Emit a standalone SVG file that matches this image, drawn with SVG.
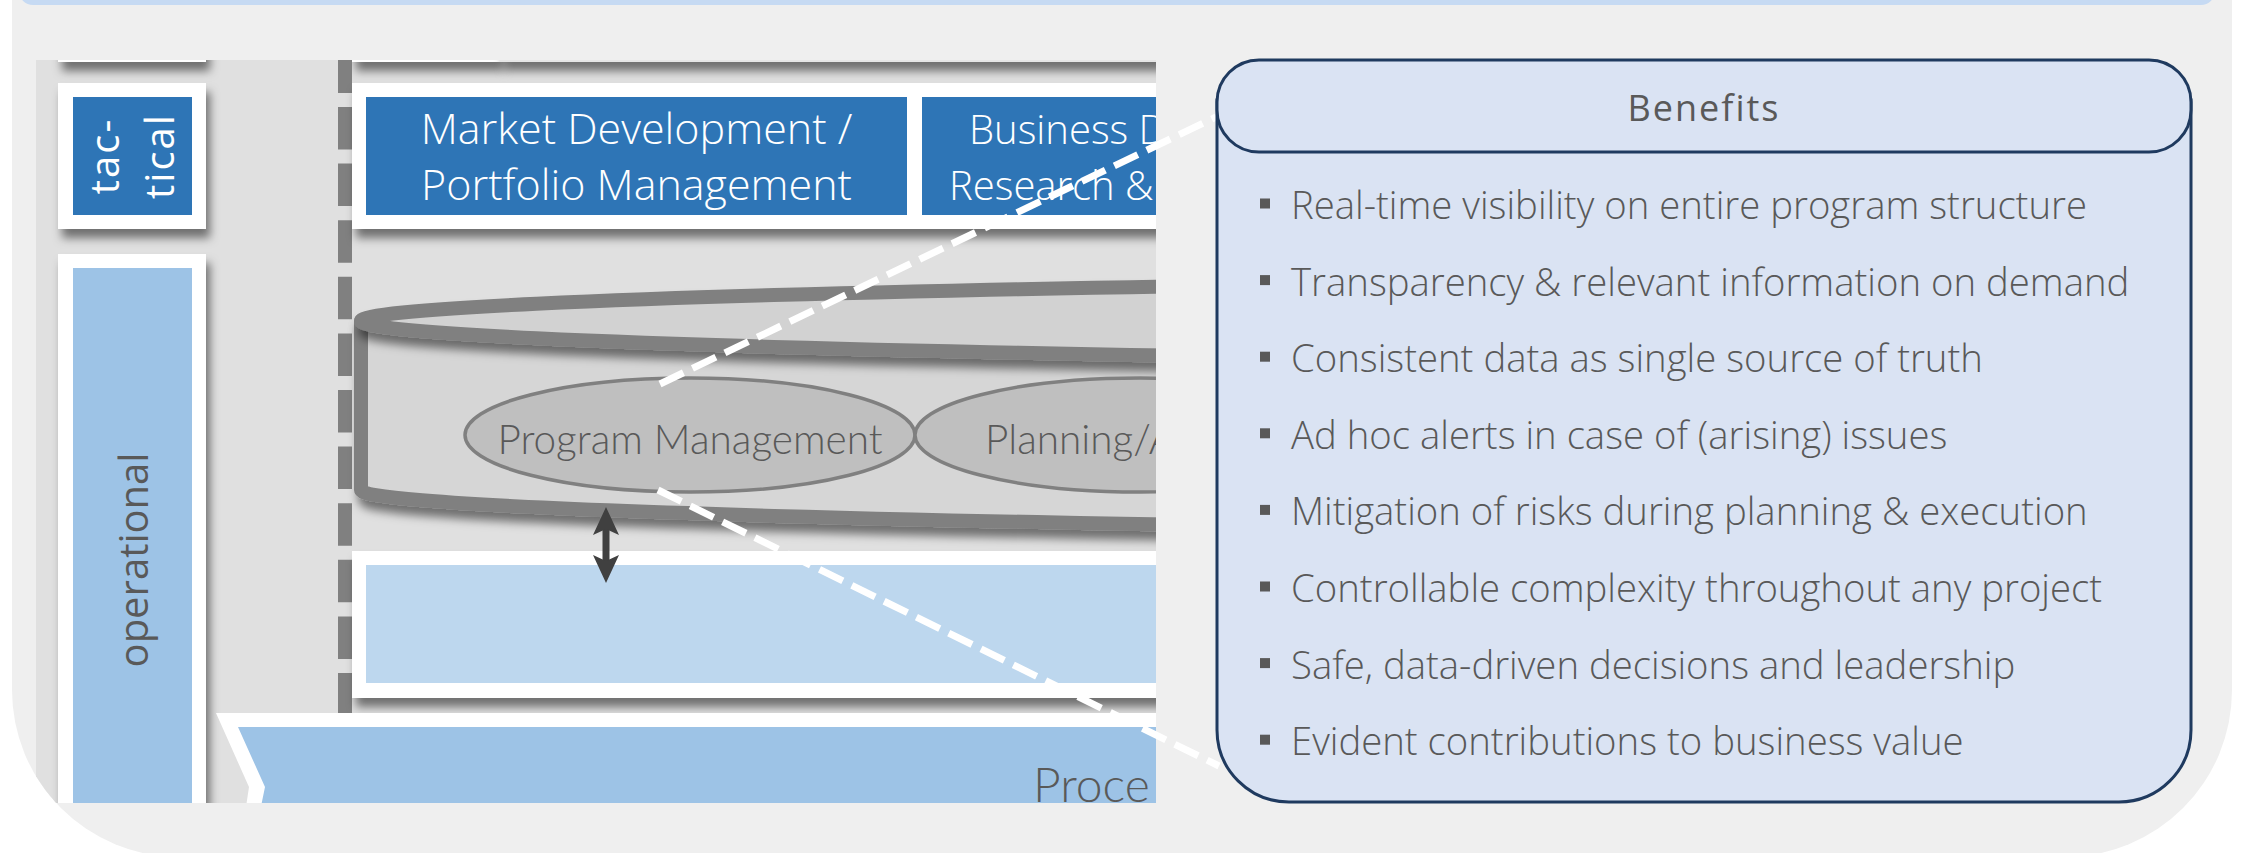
<svg xmlns="http://www.w3.org/2000/svg" width="2242" height="853" viewBox="0 0 2242 853">
<defs>
<style>
.os{font-family:"Open Sans","Liberation Sans",sans-serif}
.lt{font-family:Lato,"Open Sans",sans-serif;font-weight:300;fill:#595959}
.wb{fill:#ffffff}
.dk{fill:#2e75b6}
.mid{fill:#9dc3e6}
.lb{fill:#bdd7ee}
.hd{font-family:"Open Sans","Liberation Sans",sans-serif;font-size:43px;font-weight:300;fill:#ffffff}
.hd2{font-family:"Open Sans","Liberation Sans",sans-serif;font-size:40px;font-weight:300;fill:#ffffff}
.bt{font-family:"Open Sans","Liberation Sans",sans-serif;font-size:38.3px;font-weight:300;fill:#595959}
.bul{fill:#595959}
.dash{fill:none;stroke:#ffffff;stroke-width:7;stroke-dasharray:26 10}
.oval{fill:#bfbfbf;stroke:#808080;stroke-width:3.5}
.cyl{stroke:#808080;stroke-width:14;stroke-linejoin:round}
</style>
<filter id="sh" filterUnits="userSpaceOnUse" x="0" y="0" width="2242" height="853">
<feDropShadow dx="4" dy="9" stdDeviation="5" flood-color="#000000" flood-opacity="0.5"/>
</filter>
<clipPath id="crop"><path d="M36,60 H1156 V803 H56 A167,167 0 0 1 36,776.3 Z"/></clipPath>
</defs>
<rect x="0" y="0" width="2242" height="853" fill="#ffffff"/>
<path id="panel" d="M12,-20 H2232 V690 A167,167 0 0 1 2065,857 H179 A167,167 0 0 1 12,690 Z" fill="#efefef"/>
<rect x="19" y="-30" width="2196" height="35" rx="14" fill="#c6daf3"/>
<g id="crop-area" clip-path="url(#crop)">
<rect x="36" y="60" width="1120" height="743" fill="#e0e0e0"/>
<rect x="58" y="30" width="148" height="32" class="wb" filter="url(#sh)"/>
<rect x="352" y="30" width="148" height="32" class="wb" filter="url(#sh)"/>
<rect x="500" y="30" width="700" height="32" fill="#e6e6e6" filter="url(#sh)"/>
<g id="tactical">
<rect x="58" y="83" width="148" height="146" class="wb" filter="url(#sh)"/>
<rect x="73" y="97" width="119" height="118" class="dk"/>
<text class="os" font-size="40" fill="#ffffff" letter-spacing="2" text-anchor="middle" transform="translate(119,156) rotate(-90)">tac-</text>
<text class="os" font-size="40" fill="#ffffff" letter-spacing="2" text-anchor="middle" transform="translate(174,156) rotate(-90)">tical</text>
</g>
<g id="operational">
<rect x="58" y="254" width="148" height="600" class="wb" filter="url(#sh)"/>
<rect x="73" y="268" width="119" height="600" class="mid"/>
<text class="os" font-size="40" fill="#595959" text-anchor="middle" transform="translate(148,560) rotate(-90)">operational</text>
</g>
<line x1="345" y1="50.4" x2="345" y2="713" stroke="#808080" stroke-width="14" stroke-dasharray="42.5 14.1"/>
<g id="strategic-row">
<rect x="352" y="83" width="1000" height="146" class="wb" filter="url(#sh)"/>
<g id="market-development">
<rect x="366" y="97" width="541" height="118" class="dk"/>
<text class="hd" x="636.5" y="144" text-anchor="middle">Market Development /</text>
<text class="hd" x="636.5" y="200" text-anchor="middle">Portfolio Management</text>
</g>
<g id="business-development">
<rect x="922" y="97" width="541" height="118" class="dk"/>
<text class="hd2" x="969" y="144">Business D</text>
<text class="hd2" x="949" y="200">Research &amp;</text>
</g>
</g>
<g id="cylinder">
<path class="cyl" d="M361,321 V490 A2500,47 0 0 0 1300,526.7 V321 Z" fill="#d6d6d6" filter="url(#sh)"/>
<ellipse class="cyl" cx="2861" cy="321" rx="2500" ry="47" fill="#d2d2d2" filter="url(#sh)"/>
<g id="program-management">
<ellipse class="oval" cx="690" cy="435" rx="225" ry="57"/>
<text class="lt" x="690" y="454" font-size="40.5" text-anchor="middle">Program Management</text>
</g>
<g id="planning">
<ellipse class="oval" cx="1140" cy="435" rx="225" ry="57"/>
<text class="lt" x="985" y="454" font-size="40.5">Planning/A</text>
</g>
</g>
<g id="data-layer">
<rect x="352" y="551" width="1000" height="147" class="wb" filter="url(#sh)"/>
<rect x="366" y="565" width="990" height="118" class="lb"/>
</g>
<g id="arrow">
<line x1="606" y1="528" x2="606" y2="562" stroke="#404040" stroke-width="7"/>
<path d="M606,507 L619,535 L606,529 L593,535 Z M606,583 L619,555 L606,561 L593,555 Z" fill="#404040"/>
</g>
<g id="process">
<path d="M216,713 L1200,713 L1200,860 L238,860 L249,787 Z" class="wb"/>
<path d="M238,727 L1200,727 L1200,860 L250,860 L265,787 Z" class="mid"/>
<text class="lt" x="1033" y="802" font-size="48">Proce</text>
</g>
</g>
<g id="connectors">
<line class="dash" x1="660" y1="384" x2="1216" y2="117"/>
<line class="dash" x1="658" y1="490" x2="1219" y2="766"/>
</g>
<g id="benefits">
<path d="M1217,100 V730 A72,72 0 0 0 1289,802 H2119 A72,72 0 0 0 2191,730 V100 Z" fill="#dae3f3" stroke="#1f3a5f" stroke-width="3"/>
<rect x="1217" y="60" width="974" height="92" rx="42" fill="#dae3f3" stroke="#1f3a5f" stroke-width="3"/>
<text class="os" x="1704" y="121" font-size="36" fill="#595959" letter-spacing="2" text-anchor="middle">Benefits</text>
<rect class="bul" x="1260" y="198.5" width="10" height="10"/>
<text class="bt" x="1291" y="219">Real-time visibility on entire program structure</text>
<rect class="bul" x="1260" y="275.1" width="10" height="10"/>
<text class="bt" x="1291" y="295.6">Transparency &amp; relevant information on demand</text>
<rect class="bul" x="1260" y="351.7" width="10" height="10"/>
<text class="bt" x="1291" y="372.2">Consistent data as single source of truth</text>
<rect class="bul" x="1260" y="428.3" width="10" height="10"/>
<text class="bt" x="1291" y="448.8">Ad hoc alerts in case of (arising) issues</text>
<rect class="bul" x="1260" y="504.9" width="10" height="10"/>
<text class="bt" x="1291" y="525.4">Mitigation of risks during planning &amp; execution</text>
<rect class="bul" x="1260" y="581.5" width="10" height="10"/>
<text class="bt" x="1291" y="602">Controllable complexity throughout any project</text>
<rect class="bul" x="1260" y="658.1" width="10" height="10"/>
<text class="bt" x="1291" y="678.6">Safe, data-driven decisions and leadership</text>
<rect class="bul" x="1260" y="734.7" width="10" height="10"/>
<text class="bt" x="1291" y="755.2">Evident contributions to business value</text>
</g>
</svg>
